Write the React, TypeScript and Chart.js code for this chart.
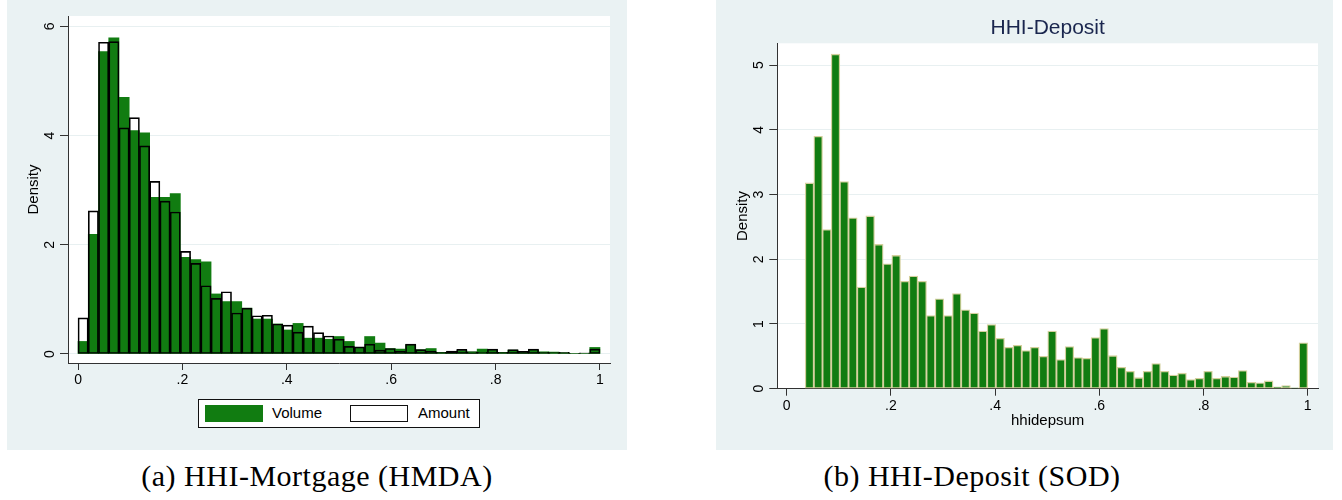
import React, { useEffect, useRef } from 'react';
import { Chart, registerables } from 'chart.js';

Chart.register(...registerables);

// ---------- data ----------
// (a) HHI-Mortgage (HMDA): 51 equal bins on [0, 1]
const mortgageBinStart = 0;
const mortgageBinWidth = 1 / 51;
const volumeDensity = [
  0.23, 2.19, 5.54, 5.79, 4.7, 4.09, 4.05, 2.87, 2.87, 2.94, 1.77, 1.73, 1.69,
  1.1, 0.96, 0.96, 0.84, 0.64, 0.64, 0.55, 0.44, 0.56, 0.29, 0.29, 0.27, 0.32,
  0.23, 0.12, 0.32, 0.2, 0.1, 0.09, 0.17, 0.08, 0.1, 0.03, 0.045, 0.06, 0.04,
  0.09, 0.07, 0.03, 0.07, 0.04, 0.07, 0.04, 0.035, 0.025, 0.01, 0.01, 0.12,
];
const amountDensity = [
  0.66, 2.62, 5.71, 5.72, 4.14, 4.33, 3.81, 3.16, 2.8, 2.6, 1.88, 1.66, 1.25,
  1.02, 1.14, 0.75, 0.84, 0.7, 0.71, 0.55, 0.53, 0.4, 0.51, 0.39, 0.33, 0.27,
  0.14, 0.13, 0.18, 0.07, 0.1, 0.05, 0.18, 0.08, 0.05, 0.03, 0.055, 0.085, 0.04,
  0.03, 0.09, 0.03, 0.08, 0.05, 0.09, 0.03, 0.025, 0.03, 0.01, 0.02, 0.09,
];

// (b) HHI-Deposit (SOD): 58 equal bins on [0.0355, 1]
const depositBinStart = 0.0355;
const depositBinWidth = (1 - 0.0355) / 58;
const depositDensity = [
  3.18, 3.9, 2.46, 5.17, 3.2, 2.64, 1.57, 2.67, 2.23, 1.93,
  2.06, 1.66, 1.74, 1.66, 1.13, 1.39, 1.13, 1.47, 1.22, 1.17,
  0.89, 0.99, 0.78, 0.64, 0.67, 0.59, 0.64, 0.5, 0.89, 0.45,
  0.65, 0.48, 0.47, 0.79, 0.93, 0.51, 0.33, 0.27, 0.17, 0.27,
  0.39, 0.27, 0.21, 0.24, 0.14, 0.16, 0.27, 0.16, 0.19, 0.18,
  0.28, 0.1, 0.09, 0.12, 0.03, 0.05, 0.015, 0.71,
];

const xTickValues = [0, 0.2, 0.4, 0.6, 0.8, 1];
const xTickLabels = ['0', '.2', '.4', '.6', '.8', '1'];
const mortgageYTicks = [0, 2, 4, 6];
const mortgageYLabels = ['0', '2', '4', '6'];
const depositYTicks = [0, 1, 2, 3, 4, 5];
const depositYLabels = ['0', '1', '2', '3', '4', '5'];

const legendLabels = ['Volume', 'Amount'];
const depositTitle = 'HHI-Deposit';
const depositXTitle = 'hhidepsum';
const yTitle = 'Density';
const captionA = '(a) HHI-Mortgage (HMDA)';
const captionB = '(b) HHI-Deposit (SOD)';

// ---------- styles ----------
const SANS = '"Liberation Sans", Arial, Helvetica, sans-serif';
const SERIF = '"Liberation Serif", "Times New Roman", serif';
const PANEL_BG = 'rgb(234,242,243)';
const GRID = 'rgb(232,240,241)';
const AXIS = 'rgb(50,50,50)';
const GREEN = 'rgb(17,124,17)';
const KHAKI = 'rgb(212,208,158)';
const NAVY = 'rgb(26,38,78)';

function centers(start: number, width: number, n: number) {
  const out: number[] = [];
  for (let i = 0; i < n; i++) out.push(start + width * (i + 0.5));
  return out;
}

const panelPlugin = {
  id: 'panel',
  beforeDraw(chart: any) {
    const { ctx, chartArea } = chart;
    ctx.save();
    ctx.fillStyle = PANEL_BG;
    ctx.fillRect(0, 0, chart.width, chart.height);
    ctx.fillStyle = '#ffffff';
    ctx.fillRect(chartArea.left, chartArea.top, chartArea.right - chartArea.left, chartArea.bottom - chartArea.top);
    ctx.restore();
  },
  afterDraw(chart: any, _args: any, opts: any) {
    const { ctx, chartArea } = chart;
    const y = chart.scales.y;
    ctx.save();
    ctx.font = `14px ${SANS}`;
    ctx.fillStyle = '#000';
    ctx.textAlign = 'center';
    ctx.textBaseline = 'middle';
    y.ticks.forEach((t: any, i: number) => {
      const py = y.getPixelForValue(t.value);
      ctx.save();
      ctx.translate(opts.labelX, py);
      ctx.rotate(-Math.PI / 2);
      ctx.fillText(opts.yLabels[i], 0, 0);
      ctx.restore();
    });
    if (opts.title) {
      ctx.font = `21px ${SANS}`;
      ctx.fillStyle = NAVY;
      ctx.fillText(opts.title, (chartArea.left + chartArea.right) / 2, opts.titleY);
    }
    ctx.restore();
  },
};

function baseOptions(p: {
  xMin: number; xMax: number; yMin: number; yMax: number;
  yTicks: number[]; yLabels: string[]; yWidth: number; xHeight: number;
  padTop: number; padRight: number; labelX: number; yTitlePad: number;
  xTitle?: string; title?: string; titleY?: number;
}) {
  return {
    responsive: false,
    animation: false,
    events: [],
    layout: { padding: { top: p.padTop, right: p.padRight, left: 0, bottom: 0 } },
    plugins: {
      legend: { display: false },
      tooltip: { enabled: false },
      title: { display: false },
      panel: { labelX: p.labelX, yLabels: p.yLabels, title: p.title, titleY: p.titleY },
    },
    scales: {
      x: {
        type: 'linear',
        min: p.xMin,
        max: p.xMax,
        offset: false,
        afterBuildTicks: (s: any) => { s.ticks = xTickValues.map((v) => ({ value: v })); },
        afterFit: (s: any) => { s.height = p.xHeight; },
        grid: { offset: false, drawOnChartArea: false, drawTicks: true, tickLength: 7, tickColor: AXIS, tickWidth: 1 },
        border: { display: true, color: AXIS, width: 1 },
        ticks: {
          color: '#000', font: { family: SANS, size: 14 }, padding: 2, maxRotation: 0, autoSkip: false,
          callback: (_v: any, i: number) => xTickLabels[i],
        },
        title: p.xTitle
          ? { display: true, text: p.xTitle, color: '#000', font: { family: SANS, size: 15 }, padding: { top: 0, bottom: 20 } }
          : { display: false },
      },
      y: {
        type: 'linear',
        min: p.yMin,
        max: p.yMax,
        afterBuildTicks: (s: any) => { s.ticks = p.yTicks.map((v) => ({ value: v })); },
        afterFit: (s: any) => { s.width = p.yWidth; },
        grid: { color: GRID, lineWidth: 1, drawTicks: true, tickLength: 8, tickColor: AXIS, tickWidth: 1 },
        border: { display: true, color: AXIS, width: 1 },
        ticks: { color: 'rgba(0,0,0,0)', font: { family: SANS, size: 14 }, padding: 4 },
        title: { display: true, text: yTitle, color: '#000', font: { family: SANS, size: 15 }, padding: { top: p.yTitlePad, bottom: 0 } },
      },
    },
  };
}

function MortgageChart() {
  const ref = useRef<HTMLCanvasElement>(null);
  useEffect(() => {
    const xs = centers(mortgageBinStart, mortgageBinWidth, volumeDensity.length);
    const chart = new Chart(ref.current as HTMLCanvasElement, {
      type: 'bar',
      data: {
        datasets: [
          {
            label: legendLabels[1],
            data: amountDensity.map((v, i) => ({ x: xs[i], y: v })),
            backgroundColor: 'rgba(0,0,0,0)',
            borderColor: '#000',
            borderWidth: 1,
            borderSkipped: false,
            grouped: false,
            barPercentage: 1,
            categoryPercentage: 1,
            order: 0,
          },
          {
            label: legendLabels[0],
            data: volumeDensity.map((v, i) => ({ x: xs[i], y: v })),
            backgroundColor: GREEN,
            borderColor: GREEN,
            borderWidth: 0,
            borderSkipped: false,
            grouped: false,
            barPercentage: 1,
            categoryPercentage: 1,
            order: 1,
          },
        ],
      } as any,
      options: baseOptions({
        xMin: -0.0192, xMax: 1.0192, yMin: -0.165, yMax: 6.19,
        yTicks: mortgageYTicks, yLabels: mortgageYLabels,
        yWidth: 61, xHeight: 87, padTop: 16, padRight: 17, labelX: 43.5, yTitlePad: 17.6,
      }) as any,
      plugins: [panelPlugin as any],
    });
    return () => chart.destroy();
  }, []);
  return <canvas ref={ref} width={620} height={450} style={{ position: 'absolute', left: 7, top: 0, width: 620, height: 450 }} />;
}

function DepositChart() {
  const ref = useRef<HTMLCanvasElement>(null);
  useEffect(() => {
    const xs = centers(depositBinStart, depositBinWidth, depositDensity.length);
    const chart = new Chart(ref.current as HTMLCanvasElement, {
      type: 'bar',
      data: {
        datasets: [
          {
            label: 'hhidepsum',
            data: depositDensity.map((v, i) => ({ x: xs[i], y: v })),
            backgroundColor: GREEN,
            borderColor: KHAKI,
            borderWidth: 1.3,
            borderSkipped: false,
            grouped: false,
            barPercentage: 1,
            categoryPercentage: 1,
          },
        ],
      } as any,
      options: baseOptions({
        xMin: -0.018, xMax: 1.0198, yMin: 0, yMax: 5.338,
        yTicks: depositYTicks, yLabels: depositYLabels,
        yWidth: 61.3, xHeight: 61.3, padTop: 43.3, padRight: 15, labelX: 43, yTitlePad: 18.1,
        xTitle: depositXTitle, title: depositTitle, titleY: 28,
      }) as any,
      plugins: [panelPlugin as any],
    });
    return () => chart.destroy();
  }, []);
  return <canvas ref={ref} width={617} height={450} style={{ position: 'absolute', left: 716, top: 0, width: 617, height: 450 }} />;
}

export default function App() {
  const legendText: React.CSSProperties = {
    position: 'absolute', top: 404, fontFamily: SANS, fontSize: 15, lineHeight: '18px', color: '#000',
  };
  const caption: React.CSSProperties = {
    position: 'absolute', top: 459, width: 620, textAlign: 'center', fontFamily: SERIF,
    fontSize: 30, lineHeight: '34px', letterSpacing: 0.5, color: '#000', whiteSpace: 'nowrap',
  };
  return (
    <div style={{ position: 'fixed', left: 0, top: 0, width: 1342, height: 500, background: '#fff', overflow: 'hidden' }}>
      <MortgageChart />
      <DepositChart />
      <div style={{ position: 'absolute', left: 198, top: 399, width: 280, height: 27, border: '1px solid #111', background: '#fff' }} />
      <div style={{ position: 'absolute', left: 205, top: 405, width: 58, height: 17, background: GREEN }} />
      <div style={{ ...legendText, left: 272 }}>{legendLabels[0]}</div>
      <div style={{ position: 'absolute', left: 350, top: 405, width: 56, height: 15, border: '1px solid #111', background: '#fff' }} />
      <div style={{ ...legendText, left: 418 }}>{legendLabels[1]}</div>
      <div style={{ ...caption, left: 7 }}>{captionA}</div>
      <div style={{ ...caption, left: 662 }}>{captionB}</div>
    </div>
  );
}
